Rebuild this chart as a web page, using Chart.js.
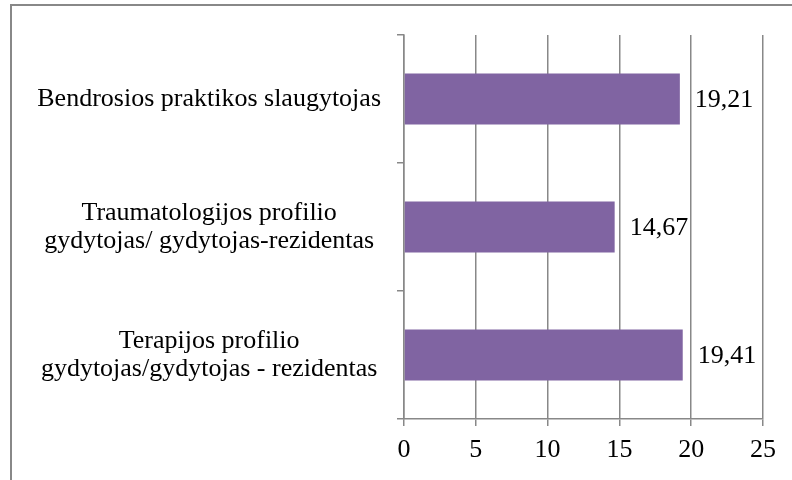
<!DOCTYPE html>
<html>
<head>
<meta charset="utf-8">
<script src="https://cdn.jsdelivr.net/npm/chart.js@4/dist/chart.umd.min.js"></script>
<style>
  html, body { margin: 0; padding: 0; background: #fff; overflow: hidden; }
  #wrap { position: relative; width: 792px; height: 480px; }
  #frame {
    position: absolute; left: 10px; top: 4px; width: 800px; height: 500px;
    border-left: 2px solid #888; border-top: 2px solid #888;
  }
  canvas { position: absolute; left: 0; top: 0; }
</style>
</head>
<body>
<div id="wrap">
  <div id="frame"></div>
  <canvas id="chart" width="792" height="480"></canvas>
</div>
<script>
// data
const categories = [
  ['Bendrosios praktikos slaugytojas'],
  ['Traumatologijos profilio', 'gydytojas/ gydytojas-rezidentas'],
  ['Terapijos profilio', 'gydytojas/gydytojas - rezidentas']
];
const values = [19.21, 14.67, 19.41];
const xMin = 0;
const xMax = 25;
const xStep = 5;

const FONT = "'Liberation Serif', 'Times New Roman', serif";
const GRAY = '#888';

// value labels to the right of each bar, decimal comma
const valueLabels = {
  id: 'valueLabels',
  afterDatasetsDraw(chart) {
    const ctx = chart.ctx;
    const meta = chart.getDatasetMeta(0);
    ctx.save();
    ctx.font = '26px ' + FONT;
    ctx.fillStyle = '#000';
    ctx.textAlign = 'left';
    ctx.textBaseline = 'middle';
    meta.data.forEach((bar, i) => {
      const txt = values[i].toFixed(2).replace('.', ',');
      ctx.fillText(txt, bar.x + 15, bar.y + 1);
    });
    ctx.restore();
  }
};

new Chart(document.getElementById('chart'), {
  type: 'bar',
  data: {
    labels: categories,
    datasets: [{
      data: values,
      backgroundColor: '#8064A2',
      borderWidth: 0,
      barPercentage: 0.4,
      categoryPercentage: 1
    }]
  },
  options: {
    indexAxis: 'y',
    responsive: false,
    animation: false,
    devicePixelRatio: 1,
    layout: { padding: { left: 10, top: 35, right: 29, bottom: 0 } },
    plugins: {
      legend: { display: false },
      tooltip: { enabled: false }
    },
    scales: {
      x: {
        min: xMin,
        max: xMax,
        afterFit(s) { s.height = 61; },
        ticks: {
          stepSize: xStep,
          color: '#000',
          padding: 9,
          font: { family: FONT, size: 26 }
        },
        grid: { color: GRAY, lineWidth: 1.5, tickLength: 7 },
        border: { color: GRAY, width: 1.5 }
      },
      y: {
        afterFit(s) { s.width = 394; s.paddingTop = 0; s.paddingBottom = 0; },
        ticks: {
          color: '#000',
          padding: 16,
          crossAlign: 'center',
          font: { family: FONT, size: 26, lineHeight: 1.1 }
        },
        grid: { color: GRAY, lineWidth: 1.5, tickLength: 7, drawOnChartArea: false, offset: true },
        border: { color: GRAY, width: 1.5 }
      }
    }
  },
  plugins: [valueLabels]
});
</script>
</body>
</html>
